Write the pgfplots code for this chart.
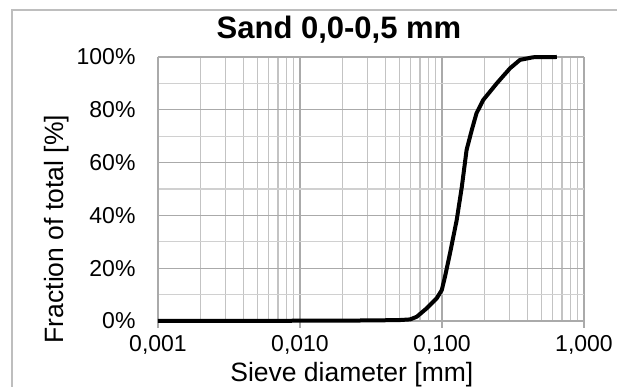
\documentclass[border=0pt]{standalone}
\usepackage{pgfplots}
\pgfplotsset{compat=1.18}
\usepackage{fontspec}
\setmainfont{Liberation Sans}
\definecolor{majgrid}{RGB}{170,170,170}
\definecolor{mingrid}{RGB}{208,208,208}
\definecolor{minxgrid}{RGB}{195,195,195}
\definecolor{framec}{RGB}{190,190,190}
\begin{document}
\begin{tikzpicture}[x=1pt,y=1pt]
\useasboundingbox (0,0) rectangle (617,387);
\draw[framec, line width=1.2pt] (12,-10) -- (12,377) -- (630,377);
\node[font=\fontsize{31}{36}\selectfont\bfseries] at (339,357) {Sand 0,0-0,5 mm};
\begin{axis}[
  at={(158pt,66pt)}, anchor=south west,
  width=426pt, height=264pt, scale only axis,
  xmode=log, xmin=0.001, xmax=1, ymin=0, ymax=100,
  xtick={0.001,0.01,0.1,1},
  xticklabels={{0,001},{0,010},{0,100},{1,000}},
  ytick={0,20,40,60,80,100},
  yticklabels={0\%,20\%,40\%,60\%,80\%,100\%},
  minor ytick={10,30,50,70,90},
  grid=both,
  major grid style={majgrid, line width=1.1pt},
  minor grid style={mingrid, line width=1.1pt},
  minor x grid style={minxgrid, line width=1.1pt},
  major x grid style={majgrid, line width=1.1pt},
  axis line style={majgrid, line width=1.1pt},
  axis x line=bottom, axis y line=left,
  x axis line style={-},
  y axis line style={-},
  xtick pos=bottom, tick align=outside,
  major x tick style={majgrid, line width=1.1pt},
  minor x tick style={draw=none},
  ytick style={draw=none},
  major tick length=7pt,
  tick label style={font=\fontsize{23}{27}\selectfont},
  xticklabel style={yshift=-4pt},
  yticklabel style={xshift=-12pt},
  xlabel={Sieve diameter [mm]},
  ylabel={Fraction of total [\%]},
  label style={font=\fontsize{26.5}{31}\selectfont},
  xlabel style={at={(axis description cs:0.455,-0.205)}, anchor=center},
  ylabel style={at={(axis description cs:-0.237,0.348)}, anchor=center, rotate=0},
  clip=false,
]
\addplot[black, line width=4pt, line join=round] coordinates {
(0.001,0) (0.01,0.1) (0.03,0.2) (0.05,0.35) (0.0596,0.6) (0.0664,1.6)
(0.078,4.8) (0.0918,8.6) (0.0996,11.7) (0.105,16.8) (0.1138,25.6)
(0.127,38.3) (0.138,50.9) (0.149,64.8) (0.162,72.3) (0.175,78.7)
(0.195,83.7) (0.243,90.0) (0.301,95.7) (0.354,98.9) (0.438,99.9) (0.643,100)
};
\end{axis}
\end{tikzpicture}
\end{document}
